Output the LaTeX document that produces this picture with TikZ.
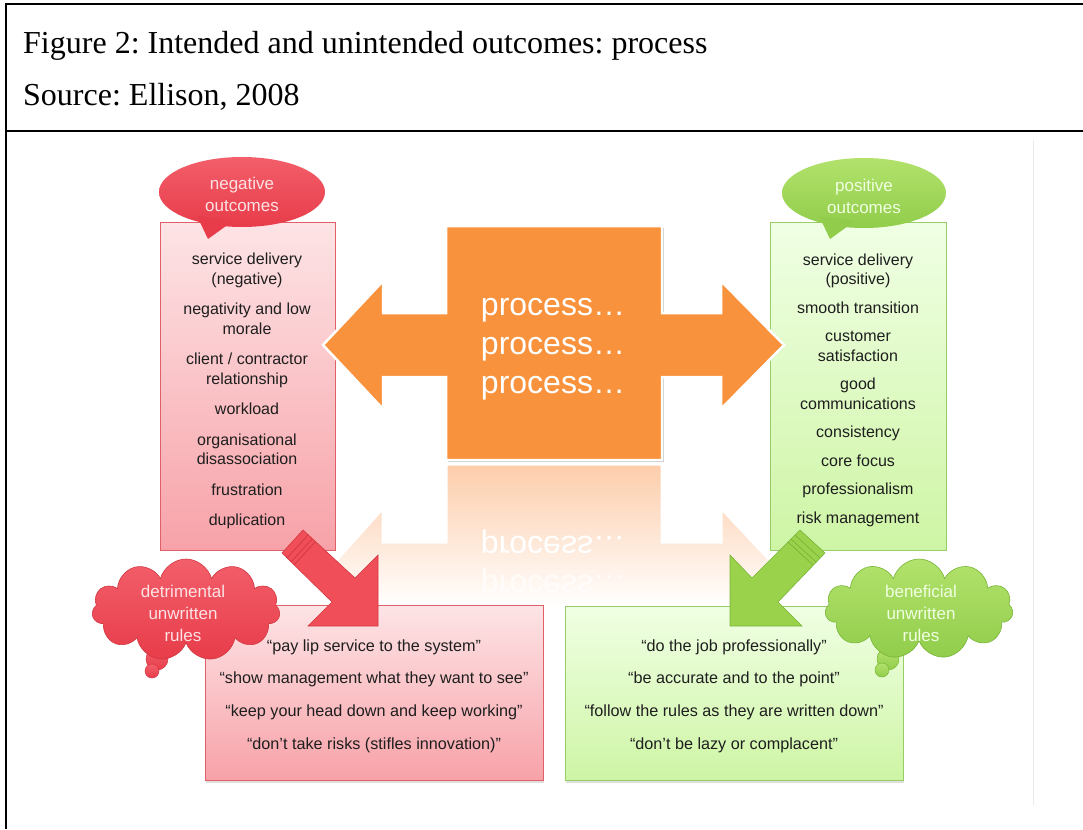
\documentclass[tikz,border=0pt]{standalone}
\usepackage{fontspec}
\usepackage{graphicx}
\setmainfont{Liberation Serif}
\newfontfamily\sansf{Liberation Sans}
\usetikzlibrary{shapes.symbols,shadows}
\frenchspacing
\definecolor{orangeF}{RGB}{248,146,60}
\definecolor{orangeR}{RGB}{253,205,170}
\definecolor{redtop}{RGB}{253,228,230}
\definecolor{redbot}{RGB}{247,162,168}
\definecolor{redborder}{RGB}{225,95,105}
\definecolor{greentop}{RGB}{240,255,228}
\definecolor{greenbot}{RGB}{206,245,165}
\definecolor{greenborder}{RGB}{150,205,100}
\definecolor{rbubtop}{RGB}{242,95,106}
\definecolor{rbubbot}{RGB}{232,60,74}
\definecolor{rbubtxt}{RGB}{253,226,228}
\definecolor{gbubtop}{RGB}{178,226,108}
\definecolor{gbubbot}{RGB}{145,205,75}
\definecolor{gbubtxt}{RGB}{240,255,225}
\definecolor{rarrow}{RGB}{240,78,88}
\definecolor{rarrowdk}{RGB}{210,55,65}
\definecolor{garrow}{RGB}{155,210,75}
\definecolor{garrowdk}{RGB}{120,180,55}
\definecolor{txtcol}{RGB}{30,30,30}
\begin{document}
\begin{tikzpicture}[x=1pt,y=-1pt,
  frameline/.style={line width=2.4pt,black},
  headtxt/.style={font=\fontsize{32}{36}\selectfont, anchor=base west, inner sep=0pt},
  listtxt/.style={font=\sansf\fontsize{16}{19.5}\selectfont, align=center, text=txtcol, inner sep=0pt},
  quotetxt/.style={font=\sansf\fontsize{16.2}{32.7}\selectfont, align=center, text=txtcol, inner sep=0pt},
  proctxt/.style={font=\sansf\fontsize{32}{39}\selectfont, align=center, text=white, inner sep=0pt},
  redbox/.style={draw=redborder, line width=0.8pt, top color=redtop, bottom color=redbot, anchor=north west},
  greenbox/.style={draw=greenborder, line width=0.8pt, top color=greentop, bottom color=greenbot, anchor=north west},
  shadowed/.style={drop shadow={opacity=0.25, shadow xshift=1pt, shadow yshift=-3pt}},
  rbubble/.style={top color=rbubtop, bottom color=rbubbot},
  gbubble/.style={top color=gbubtop, bottom color=gbubbot},
  rbubtext/.style={font=\sansf\fontsize{17}{22}\selectfont, align=center, text=rbubtxt, inner sep=0pt},
  gbubtext/.style={font=\sansf\fontsize{17}{22}\selectfont, align=center, text=gbubtxt, inner sep=0pt},
  rcloud/.style={cloud, cloud puffs=11, cloud ignores aspect, minimum width=188pt, minimum height=102pt, inner sep=0pt, draw=rarrowdk, line width=0.6pt, top color=rbubtop, bottom color=rbubbot},
  gcloud/.style={cloud, cloud puffs=11, cloud ignores aspect, minimum width=188pt, minimum height=100pt, inner sep=0pt, draw=garrowdk, line width=0.6pt, top color=gbubtop, bottom color=gbubbot},
]
\useasboundingbox (0,0) rectangle (1083,829);
\fill[white] (0,0) rectangle (1083,829);

% frame of the table
\draw[frameline] (6,4) -- (1083,4);
\draw[frameline] (6,2.8) -- (6,829);
\draw[frameline] (6,131) -- (1083,131);
\draw[black!8, line width=1pt] (1033,140) -- (1033,805);

\node[headtxt] (title) at (23,54) {Figure 2: Intended and unintended outcomes: process};
\node[headtxt] (source) at (23,106) {Source: Ellison, 2008};

% reflection of the orange arrow
\path[top color=orangeR, bottom color=white, draw=white, line width=3pt]
  (446,464) -- (662,464) -- (662,542) -- (721,542) -- (721,508) -- (783,574) -- (753,606)
  -- (353,606) -- (324,574) -- (383,508) -- (383,542) -- (446,542) -- cycle;
\node[proctxt, text=white] (refl1) at (553,542) {\scalebox{1}[-1]{process\dots}};
\node[proctxt, text=white, opacity=0.7] (refl2) at (553,581) {\scalebox{1}[-1]{process\dots}};

% upper boxes
\node[redbox, minimum width=175pt, minimum height=328pt] (negbox) at (160,222) {};
\node[greenbox, minimum width=176pt, minimum height=328pt] (posbox) at (770,222) {};

% orange double arrow
\fill[black!25] (448,228) -- (664,228) -- (664,462) -- (448,462) -- cycle;
\path[fill=orangeF, draw=white, line width=2.5pt, line join=miter]
  (323,345) -- (383,281) -- (383,313) -- (446,313) -- (446,226) -- (662,226) -- (662,313)
  -- (721,313) -- (721,281) -- (784,345) -- (721,409) -- (721,377) -- (662,377) -- (662,460)
  -- (446,460) -- (446,377) -- (383,377) -- (383,409) -- cycle;
\node[proctxt] (proc) at (553,349) {process\dots\\process\dots\\process\dots};

% speech bubbles
\path[rbubble] (242,192) ellipse [x radius=83, y radius=35];
\fill[rbubbot] (197,216) -- (233,221) -- (208,239) -- cycle;
\node[rbubtext] (negtitle) at (242,194) {negative\\outcomes};
\path[gbubble] (864,193) ellipse [x radius=82, y radius=35];
\fill[gbubbot] (819,216) -- (855,221) -- (830,239) -- cycle;
\node[gbubtext] (postitle) at (864,196) {positive\\outcomes};

% lists
\node[listtxt] (neglist) at (247,391) {service delivery\\(negative)\\[11pt]negativity and low\\morale\\[11pt]client / contractor\\relationship\\[11pt]workload\\[11pt]organisational\\disassociation\\[11pt]frustration\\[11pt]duplication};
\node[listtxt] (poslist) at (858,390) {service delivery\\(positive)\\[9pt]smooth transition\\[9pt]customer\\satisfaction\\[9pt]good\\communications\\[9pt]consistency\\[9pt]core focus\\[9pt]professionalism\\[9pt]risk management};

% lower boxes
\node[redbox, shadowed, minimum width=338pt, minimum height=175pt] (detbox) at (205,605) {};
\node[greenbox, shadowed, minimum width=338pt, minimum height=174pt] (benbox) at (565,606) {};

% diagonal arrows
\path[fill=rarrow, draw=rarrowdk, line width=0.6pt, line join=miter]
  (303,530) -- (355,578) -- (378,555) -- (378,626) -- (308,626) -- (332,602) -- (282,553) -- cycle;
\draw[rarrowdk, line width=0.7pt] (308,535) -- (287,558);
\draw[rarrowdk, line width=0.7pt] (312,539) -- (291,562);
\draw[rarrowdk, line width=0.7pt] (315,542) -- (294,565);
\path[fill=garrow, draw=garrowdk, line width=0.6pt, line join=miter]
  (800,530) -- (752,578) -- (730,555) -- (730,626) -- (802,626) -- (778,602) -- (825,553) -- cycle;
\draw[garrowdk, line width=0.7pt] (795,535) -- (820,558);
\draw[garrowdk, line width=0.7pt] (791,539) -- (816,562);
\draw[garrowdk, line width=0.7pt] (788,542) -- (813,565);

% thought clouds
\path[rbubble, draw=rarrowdk, line width=0.5pt] (157,659) circle [radius=11];
\path[rbubble, draw=rarrowdk, line width=0.5pt] (152,671) circle [radius=7];
\node[rcloud] (detcloud) at (186,610) {};
\node[rbubtext] (dettitle) at (183,613) {detrimental\\unwritten\\rules};
\path[gbubble, draw=garrowdk, line width=0.5pt] (888,659) circle [radius=11];
\path[gbubble, draw=garrowdk, line width=0.5pt] (882,670) circle [radius=7];
\node[gcloud] (bencloud) at (919,609) {};
\node[gbubtext] (bentitle) at (921,613) {beneficial\\unwritten\\rules};

% quotes
\node[quotetxt] (detquotes) at (374,696) {“pay lip service to the system”\\“show management what they want to see”\\“keep your head down and keep working”\\“don’t take risks (stifles innovation)”};
\node[quotetxt] (benquotes) at (734,696) {“do the job professionally”\\“be accurate and to the point”\\“follow the rules as they are written down”\\“don’t be lazy or complacent”};
\end{tikzpicture}
\end{document}
